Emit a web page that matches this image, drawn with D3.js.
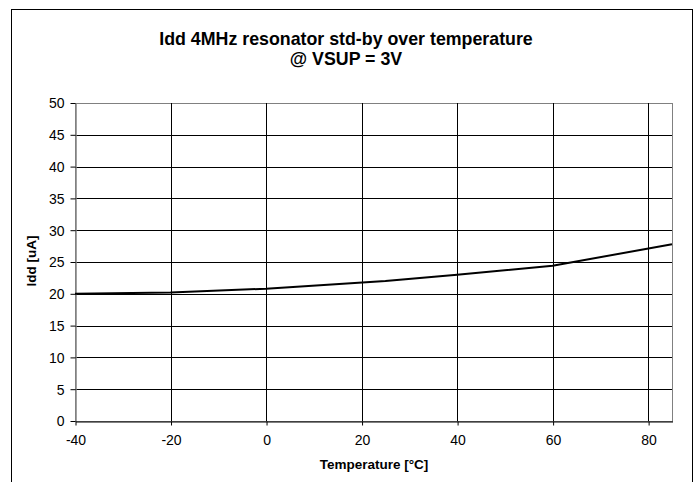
<!DOCTYPE html>
<html><head><meta charset="utf-8">
<script src="https://cdn.jsdelivr.net/npm/d3@7"></script>
<style>body{margin:0;background:#fff}svg{display:block}text{font-family:"Liberation Sans",Arial,sans-serif}</style>
</head><body>
<svg id="c" width="699" height="482"></svg>
<script>
const temperatures = [-40, -20, 0, 25, 40, 60, 85];
const iddValues = [20.0, 20.2, 20.8, 22.0, 23.0, 24.4, 27.8];
const xTicks = [-40, -20, 0, 20, 40, 60, 80];
const yTicks = [0, 5, 10, 15, 20, 25, 30, 35, 40, 45, 50];
const titleLines = ["Idd 4MHz resonator std-by over temperature", "@ VSUP = 3V"];
const xLabel = "Temperature [°C]";
const yLabel = "Idd [uA]";

const svg = d3.select("#c");
const L = 75, R = 672, T = 103, B = 421;
const x = d3.scaleLinear().domain([-40, 85]).range([L, R]);
const y = d3.scaleLinear().domain([0, 50]).range([B, T]);
const px = v => Math.round(v) + 0.5;
const fmt = d => String(d);

// outer chart border
svg.append("rect").attr("x", 11.5).attr("y", 9.5).attr("width", 681).attr("height", 490)
  .attr("fill", "#fff").attr("stroke", "#000").attr("stroke-width", 1);

// title
svg.append("text").attr("x", 346).attr("y", 45).attr("text-anchor", "middle")
  .attr("font-size", 17.8).attr("font-weight", "bold").text(titleLines[0]);
svg.append("text").attr("x", 346).attr("y", 65).attr("text-anchor", "middle")
  .attr("font-size", 17.8).attr("font-weight", "bold").text(titleLines[1]);

// plot area border
svg.append("rect").attr("x", px(L)).attr("y", px(T)).attr("width", Math.round(R) - Math.round(L)).attr("height", Math.round(B) - Math.round(T))
  .attr("fill", "none").attr("stroke", "#808080");

// gridlines
svg.append("g").selectAll("line").data(yTicks.filter(d => d > 0 && d < 50)).join("line")
  .attr("x1", L).attr("x2", R).attr("y1", d => px(y(d))).attr("y2", d => px(y(d)))
  .attr("stroke", "#000");
svg.append("g").selectAll("line").data(xTicks.filter(d => d > -40)).join("line")
  .attr("y1", T).attr("y2", B).attr("x1", d => px(x(d))).attr("x2", d => px(x(d)))
  .attr("stroke", "#000");

// axes
const yAxis = d3.axisLeft(y).tickValues(yTicks).tickFormat(fmt).tickSize(5).tickPadding(6).tickSizeOuter(0);
const gy = svg.append("g").attr("transform", `translate(${px(L)},0.5)`).call(yAxis);
gy.select(".domain").attr("stroke", "#808080").attr("stroke-width", 1.5);
gy.selectAll(".tick line").attr("stroke", "#000").attr("transform", "translate(0,-0.5)");
gy.selectAll("text").attr("font-size", 14).attr("font-family", "Liberation Sans, Arial, sans-serif").attr("fill", "#000");

const xAxis = d3.axisBottom(x).tickValues(xTicks).tickFormat(fmt).tickSize(4).tickPadding(10).tickSizeOuter(0);
const gx = svg.append("g").attr("transform", `translate(0.5,${px(B)})`).call(xAxis);
gx.select(".domain").attr("stroke", "#000");
gx.selectAll(".tick line").attr("stroke", "#000");
gx.selectAll("text").attr("font-size", 14).attr("font-family", "Liberation Sans, Arial, sans-serif").attr("fill", "#000");

// axis titles
svg.append("text").attr("x", 374).attr("y", 469).attr("text-anchor", "middle")
  .attr("font-size", 13.5).attr("font-weight", "bold").text(xLabel);
svg.append("text").attr("transform", "translate(36,261) rotate(-90)").attr("text-anchor", "middle")
  .attr("font-size", 13.5).attr("font-weight", "bold").text(yLabel);

// data line
const line = d3.line().x((d, i) => x(temperatures[i])).y(d => y(d));
svg.append("path").datum(iddValues).attr("d", line).attr("fill", "none")
  .attr("stroke", "#000").attr("stroke-width", 2);
</script>
</body></html>
